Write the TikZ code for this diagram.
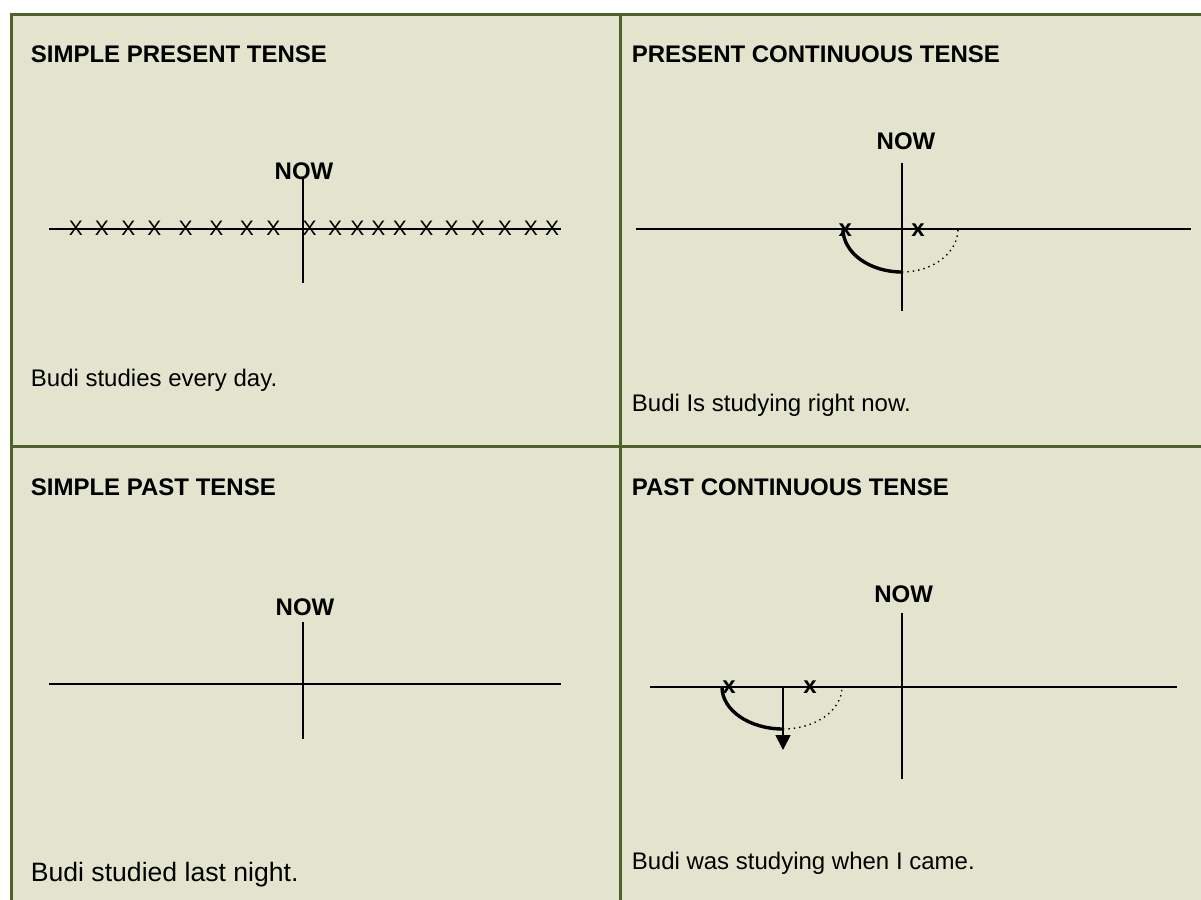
\documentclass[tikz,border=0pt]{standalone}
\usepackage{fontspec}
\setmainfont{Liberation Sans}
\usetikzlibrary{arrows.meta}

\definecolor{cellfill}{RGB}{227,228,205}
\definecolor{cellrule}{RGB}{79,98,40}

\tikzset{
  paneltitle/.style={anchor=base west,inner sep=0pt,font=\bfseries\fontsize{12}{14}\selectfont},
  sentence/.style={anchor=base west,inner sep=0pt,font=\fontsize{12}{14}\selectfont},
  nowlabel/.style={anchor=base,inner sep=0pt,font=\bfseries\fontsize{12}{14}\selectfont},
  timeline/.style={line width=0.9pt},
  xmark/.style={anchor=base,inner sep=0pt,font=\fontsize{10.5}{12}\selectfont},
  boldx/.style={anchor=base,inner sep=0pt,font=\bfseries\fontsize{12}{14}\selectfont},
  duration/.style={line width=1.7pt},
  rest/.style={line width=0.7pt,dotted},
}

\begin{document}
\begin{tikzpicture}[x=0.5pt,y=-0.5pt]
    \useasboundingbox (0,0) rectangle (1201,900);
    \fill[white] (0,0) rectangle (1201,900);
    \clip (0,0) rectangle (1201,900);

    % table
    \draw[cellrule,line width=1.5pt,fill=cellfill] (11.5,14) rectangle (1230,930);
    \draw[cellrule,line width=1.5pt] (620,14) -- (620,930);
    \draw[cellrule,line width=1.5pt] (11.5,446) -- (1230,446);

    % simple present
    \node[paneltitle] (sp-title) at (30.5,62) {SIMPLE PRESENT TENSE};
    \coordinate (sp-l) at (49,229);
    \coordinate (sp-r) at (561,229);
    \coordinate (sp-t) at (303,179);
    \coordinate (sp-b) at (303,283);
    \draw[timeline] (sp-l) -- (sp-r);
    \draw[timeline] (sp-t) -- (sp-b);
    \node[nowlabel] (sp-now) at (304,179) {NOW};
    \foreach \px [count=\i] in {75.8,102,128.5,154.3,185.7,216.3,247,273.5,
        309.7,335.2,357.5,378.5,400,426.4,451.6,478,505,530.8,552.1}
        \node[xmark] (sp-x\i) at (\px,235) {X};
    \node[sentence] (sp-text) at (30.5,386.7) {Budi studies every day.};

    % present continuous
    \node[paneltitle] (pc-title) at (631.5,62) {PRESENT CONTINUOUS TENSE};
    \coordinate (pc-l) at (636,229);
    \coordinate (pc-r) at (1191,229);
    \coordinate (pc-t) at (902,163);
    \coordinate (pc-b) at (902,311);
    \draw[timeline] (pc-l) -- (pc-r);
    \draw[timeline] (pc-t) -- (pc-b);
    \node[nowlabel] (pc-now) at (906,149) {NOW};
    \coordinate (pc-start) at (843,229);
    \draw[duration] (pc-start) arc[start angle=180,end angle=90,x radius=59,y radius=43] coordinate (pc-low);
    \draw[rest] (pc-low) arc[start angle=90,end angle=0,x radius=56,y radius=43];
    \node[boldx] (pc-x1) at (845.3,236.5) {x};
    \node[boldx] (pc-x2) at (918,236.5) {x};
    \node[sentence] (pc-text) at (631.5,411) {Budi Is studying right now.};

    % simple past
    \node[paneltitle] (sa-title) at (30.5,495) {SIMPLE PAST TENSE};
    \coordinate (sa-l) at (49,684);
    \coordinate (sa-r) at (561,684);
    \coordinate (sa-t) at (303,622);
    \coordinate (sa-b) at (303,739);
    \draw[timeline] (sa-l) -- (sa-r);
    \draw[timeline] (sa-t) -- (sa-b);
    \node[nowlabel] (sa-now) at (305,615) {NOW};
    \node[sentence,font=\fontsize{13.3}{16}\selectfont] (sa-text) at (30.5,881.7) {Budi studied last night.};

    % past continuous
    \node[paneltitle] (pa-title) at (631.5,495) {PAST CONTINUOUS TENSE};
    \coordinate (pa-l) at (650,687);
    \coordinate (pa-r) at (1177,687);
    \coordinate (pa-t) at (902,613);
    \coordinate (pa-b) at (902,779);
    \draw[timeline] (pa-l) -- (pa-r);
    \draw[timeline] (pa-t) -- (pa-b);
    \node[nowlabel] (pa-now) at (903.7,602.7) {NOW};
    \coordinate (pa-start) at (722,687);
    \draw[duration] (pa-start) arc[start angle=180,end angle=90,x radius=61,y radius=42] coordinate (pa-low);
    \draw[rest] (pa-low) arc[start angle=90,end angle=0,x radius=59,y radius=42];
    \coordinate (pa-came) at (783,687);
    \coordinate (pa-tip) at (783,750);
    \draw[timeline,-{Triangle[length=7.5pt,width=7.5pt]}] (pa-came) -- (pa-tip);
    \node[boldx] (pa-x1) at (729,693.3) {x};
    \node[boldx] (pa-x2) at (810,693.3) {x};
    \node[sentence] (pa-text) at (631.5,869) {Budi was studying when I came.};
\end{tikzpicture}
\end{document}
